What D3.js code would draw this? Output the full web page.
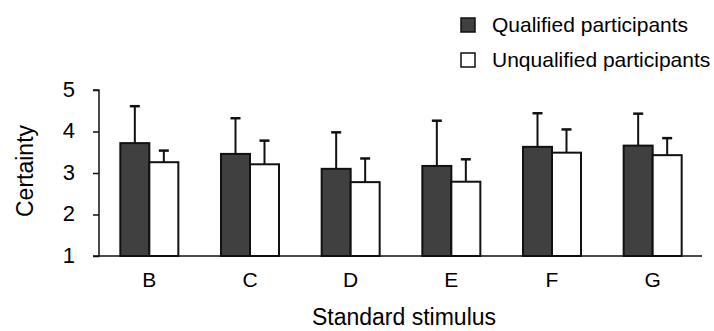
<!DOCTYPE html>
<html>
<head>
<meta charset="utf-8">
<script src="https://cdn.jsdelivr.net/npm/d3@7"></script>
<style>
  body { margin: 0; background: #fff; }
  text { font-family: Arial, "Liberation Sans", sans-serif; fill: #000; }
</style>
</head>
<body>
<svg id="chart" width="714" height="331"></svg>
<script>
// categories and series
var stimuli = ["B", "C", "D", "E", "F", "G"];
var seriesNames = ["Qualified participants", "Unqualified participants"];
var qualifiedMean = [3.72, 3.46, 3.10, 3.17, 3.63, 3.66];
var qualifiedUpper = [4.61, 4.32, 3.98, 4.26, 4.44, 4.43];
var unqualifiedMean = [3.26, 3.21, 2.78, 2.79, 3.49, 3.43];
var unqualifiedUpper = [3.54, 3.78, 3.35, 3.33, 4.05, 3.84];
var yTicks = [1, 2, 3, 4, 5];

var colors = ["#404040", "#ffffff"];

var svg = d3.select("#chart");
var plotLeft = 99, plotRight = 703, plotTop = 90, plotBottom = 256;

var x = d3.scaleBand().domain(stimuli).range([plotLeft, plotRight]).padding(0);
var barW = 29;
var y = d3.scaleLinear().domain([1, 5]).range([plotBottom, plotTop]);

var rows = [];
stimuli.forEach(function(s, i) {
  rows.push({stim: s, k: 0, mean: qualifiedMean[i], upper: qualifiedUpper[i]});
  rows.push({stim: s, k: 1, mean: unqualifiedMean[i], upper: unqualifiedUpper[i]});
});

function barX(d) {
  var c = x(d.stim) + x.bandwidth() / 2;
  return d.k == 0 ? c - barW : c;
}

// error bars (upward only)
var err = svg.append("g");
err.selectAll("line.v").data(rows).enter().append("line")
  .attr("x1", d => barX(d) + barW / 2).attr("x2", d => barX(d) + barW / 2)
  .attr("y1", d => y(d.mean)).attr("y2", d => y(d.upper))
  .attr("stroke", "#111").attr("stroke-width", 2);
err.selectAll("line.c").data(rows).enter().append("line")
  .attr("x1", d => barX(d) + barW / 2 - 5).attr("x2", d => barX(d) + barW / 2 + 5)
  .attr("y1", d => y(d.upper)).attr("y2", d => y(d.upper))
  .attr("stroke", "#111").attr("stroke-width", 2.5);

// bars
svg.append("g").selectAll("rect").data(rows).enter().append("rect")
  .attr("x", barX)
  .attr("y", d => y(d.mean))
  .attr("width", barW)
  .attr("height", d => y(1) - y(d.mean))
  .attr("fill", d => colors[d.k])
  .attr("stroke", "#111").attr("stroke-width", 2);

// y axis
var yAxis = svg.append("g").attr("transform", "translate(" + plotLeft + ",0)")
  .call(d3.axisLeft(y).tickValues(yTicks).tickFormat(d3.format("d")).tickSize(6).tickPadding(18));
yAxis.select(".domain").attr("stroke", "#111").attr("stroke-width", 1.5)
  .attr("d", "M-6," + plotTop + "H0V" + plotBottom + "H-6");
yAxis.selectAll(".tick line").attr("stroke", "#111").attr("stroke-width", 1.5);
yAxis.selectAll("text").style("font-size", "22px").attr("dy", "0.28em");

// x axis line
svg.append("line")
  .attr("x1", plotLeft).attr("x2", plotRight - 1)
  .attr("y1", plotBottom).attr("y2", plotBottom)
  .attr("stroke", "#111").attr("stroke-width", 1.5);

// category labels
svg.append("g").selectAll("text").data(stimuli).enter().append("text")
  .attr("x", d => x(d) + x.bandwidth() / 2)
  .attr("y", 287)
  .attr("text-anchor", "middle")
  .style("font-size", "21px")
  .text(d => d);

// axis titles
svg.append("text")
  .attr("x", 404).attr("y", 325)
  .attr("text-anchor", "middle")
  .style("font-size", "23px")
  .text("Standard stimulus");

svg.append("text")
  .attr("transform", "translate(33,171) rotate(-90)")
  .attr("text-anchor", "middle")
  .style("font-size", "23px")
  .text("Certainty");

// legend
var legend = svg.append("g").selectAll("g").data(seriesNames).enter().append("g")
  .attr("transform", (d, i) => "translate(461," + (18 + i * 35) + ")");
legend.append("rect")
  .attr("width", 14).attr("height", 14)
  .attr("fill", (d, i) => colors[i])
  .attr("stroke", "#111").attr("stroke-width", 1.5);
legend.append("text")
  .attr("x", 31).attr("y", 14)
  .style("font-size", "21px")
  .text(d => d);
</script>
</body>
</html>
